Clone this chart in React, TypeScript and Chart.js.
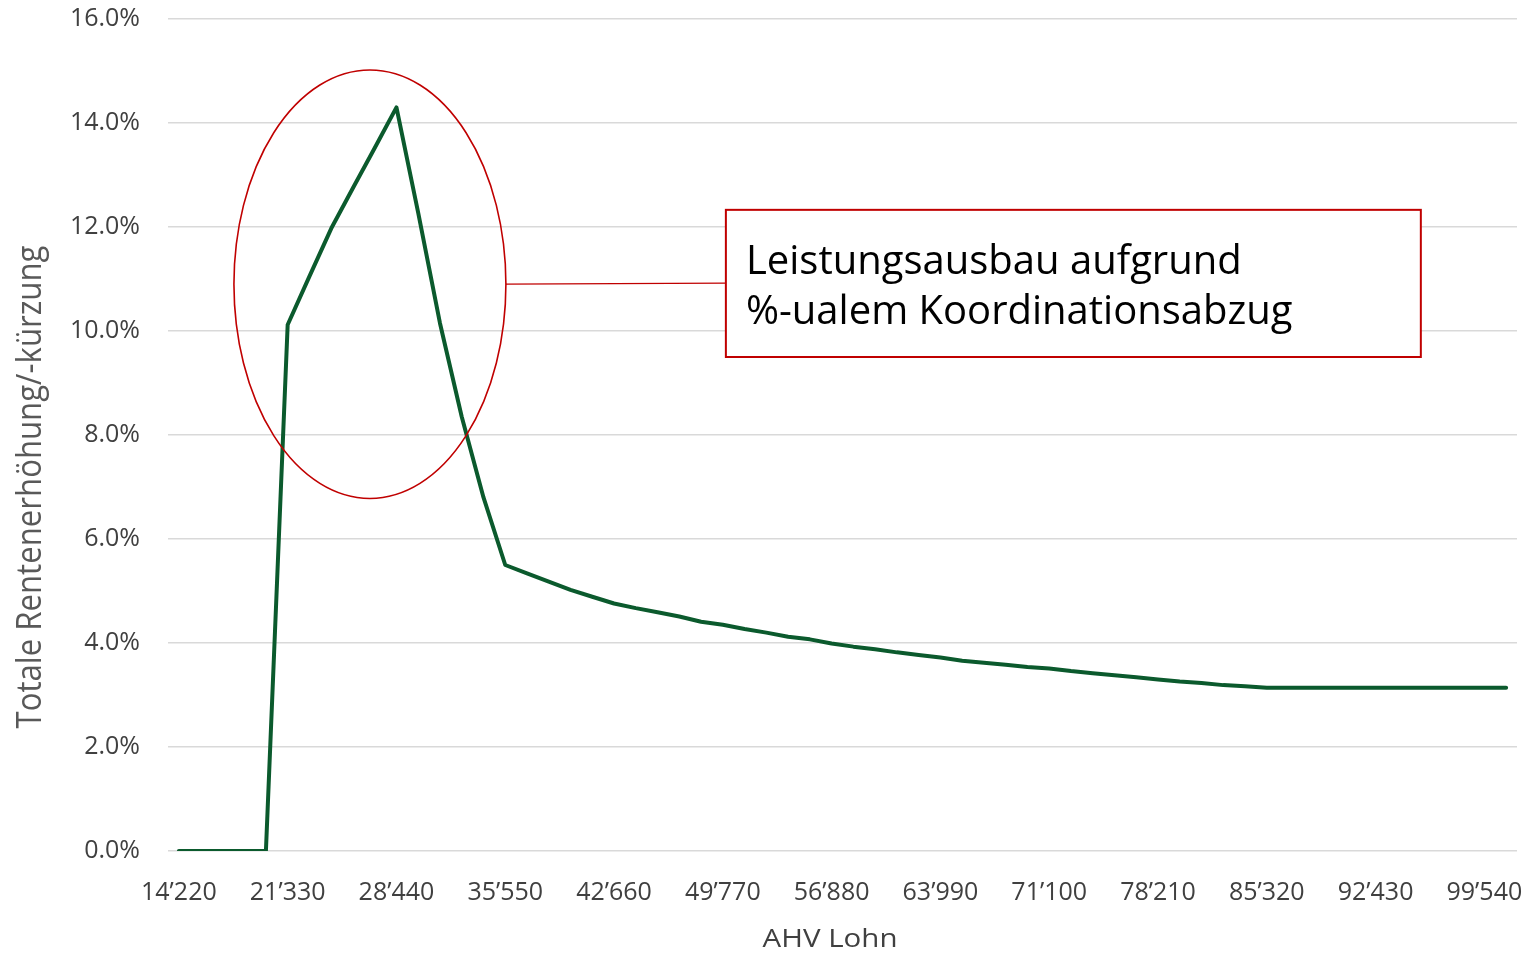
import React, { useEffect, useRef } from "react";
import { Chart, registerables } from "chart.js";

Chart.register(...registerables);

// AHV Lohn categories (CHF)
const salaries: number[] = [
  14220, 15642, 17064, 18486, 19908, 21330, 22752, 24174, 25596, 27018,
  28440, 29862, 31284, 32706, 34128, 35550, 36972, 38394, 39816, 41238,
  42660, 44082, 45504, 46926, 48348, 49770, 51192, 52614, 54036, 55458,
  56880, 58302, 59724, 61146, 62568, 63990, 65412, 66834, 68256, 69678,
  71100, 72522, 73944, 75366, 76788, 78210, 79632, 81054, 82476, 83898,
  85320, 86742, 88164, 89586, 91008, 92430, 93852, 95274, 96696, 98118,
  99540, 100962,
];

// Totale Rentenerhöhung/-kürzung in %
const changePct: number[] = [
  0, 0, 0, 0, 0, 10.12, 11.05, 11.97, 12.75, 13.52,
  14.3, 12.27, 10.15, 8.35, 6.8, 5.5, 5.34, 5.18, 5.02, 4.89,
  4.76, 4.67, 4.59, 4.51, 4.41, 4.35, 4.27, 4.2, 4.12, 4.07,
  3.99, 3.93, 3.88, 3.82, 3.77, 3.72, 3.66, 3.62, 3.58, 3.54,
  3.51, 3.46, 3.42, 3.38, 3.34, 3.3, 3.26, 3.23, 3.19, 3.17,
  3.14, 3.14, 3.14, 3.14, 3.14, 3.14, 3.14, 3.14, 3.14, 3.14,
  3.14, 3.14,
];

const yTicks: number[] = [0, 2, 4, 6, 8, 10, 12, 14, 16];
const labelEvery = 5;

const xTitle = "AHV Lohn";
const yTitle = "Totale Rentenerhöhung/-kürzung";
const noteLines: string[] = ["Leistungsausbau aufgrund", "%-ualem Koordinationsabzug"];

// annotation anchors in data units (category index / percent)
const ellipseCenter = { x: 8.78, y: 10.9 };
const ellipseRadius = { x: 6.25, y: 4.12 };
const noteBox = { x0: 25.14, x1: 57.08, y0: 12.33, y1: 9.5 };

const fmtSalary = (v: number) =>
  `${Math.floor(v / 1000)}’${String(v % 1000).padStart(3, "0")}`;

const FONT = "'Open Sans', 'Noto Sans', sans-serif";
const RED = "#c00000";

export default function App() {
  const ref = useRef<HTMLCanvasElement | null>(null);

  useEffect(() => {
    document.body.style.margin = "0";
    const canvas = ref.current;
    if (!canvas) return;

    const annotPlugin = {
      id: "annot",
      afterDatasetsDraw(chart: any) {
        const { ctx, scales } = chart;
        const x = scales.x;
        const y = scales.y;
        ctx.save();
        // ellipse
        const cx = x.getPixelForValue(ellipseCenter.x);
        const cy = y.getPixelForValue(ellipseCenter.y);
        const rx = x.getPixelForValue(ellipseCenter.x + ellipseRadius.x) - cx;
        const ry = cy - y.getPixelForValue(ellipseCenter.y + ellipseRadius.y);
        ctx.strokeStyle = RED;
        ctx.lineWidth = 1.6;
        ctx.beginPath();
        ctx.ellipse(cx, cy, rx, ry, 0, 0, Math.PI * 2);
        ctx.stroke();
        // box
        const bx0 = x.getPixelForValue(noteBox.x0);
        const bx1 = x.getPixelForValue(noteBox.x1);
        const by0 = y.getPixelForValue(noteBox.y0);
        const by1 = y.getPixelForValue(noteBox.y1);
        // connector
        ctx.lineWidth = 1.2;
        ctx.beginPath();
        ctx.moveTo(cx + rx, cy);
        ctx.lineTo(bx0, cy - 1);
        ctx.stroke();
        ctx.fillStyle = "#ffffff";
        ctx.fillRect(bx0, by0, bx1 - bx0, by1 - by0);
        ctx.lineWidth = 2;
        ctx.strokeRect(bx0, by0, bx1 - bx0, by1 - by0);
        ctx.fillStyle = "#000000";
        ctx.font = `40px ${FONT}`;
        ctx.textAlign = "left";
        ctx.textBaseline = "alphabetic";
        noteLines.forEach((t, i) => {
          ctx.fillText(t, bx0 + 20, by0 + 64 + i * 50);
        });
        ctx.restore();
      },
      afterDraw(chart: any) {
        const { ctx } = chart;
        // x title
        ctx.save();
        ctx.fillStyle = "#404040";
        ctx.font = `25px ${FONT}`;
        ctx.textAlign = "center";
        ctx.textBaseline = "alphabetic";
        const wx = ctx.measureText(xTitle).width;
        ctx.translate(830, 947);
        ctx.scale(135 / wx, 1);
        ctx.fillText(xTitle, 0, 0);
        ctx.restore();
        // y title
        ctx.save();
        ctx.fillStyle = "#595959";
        ctx.font = `500 35px ${FONT}`;
        ctx.textAlign = "center";
        ctx.textBaseline = "alphabetic";
        const wy = ctx.measureText(yTitle).width;
        ctx.translate(41, 487);
        ctx.rotate(-Math.PI / 2);
        ctx.scale(483 / wy, 1);
        ctx.fillText(yTitle, 0, 0);
        ctx.restore();
      },
    };

    const chart = new Chart(canvas, {
      type: "line",
      data: {
        labels: salaries.map(String),
        datasets: [
          {
            data: changePct,
            borderColor: "#0b5a2d",
            borderWidth: 4,
            pointRadius: 0,
            tension: 0,
            borderCapStyle: "round",
            borderJoinStyle: "round",
          },
        ],
      },
      options: {
        animation: false,
        responsive: false,
        layout: { padding: { left: 0, right: 16, top: 19, bottom: 0 } },
        plugins: { legend: { display: false }, tooltip: { enabled: false } },
        scales: {
          x: {
            type: "category",
            offset: true,
            grid: { display: false },
            border: { display: false },
            ticks: {
              autoSkip: false,
              maxRotation: 0,
              padding: 19,
              color: "#404040",
              font: { family: FONT, size: 25 },
              callback: (_v: any, i: number) =>
                i % labelEvery === 0 ? fmtSalary(salaries[i]) : "",
            },
            afterFit: (s: any) => {
              s.height = 103;
              s.paddingLeft = 0;
              s.paddingRight = 0;
            },
          },
          y: {
            min: yTicks[0],
            max: yTicks[yTicks.length - 1],
            afterBuildTicks: (s: any) => {
              s.ticks = yTicks.map((v) => ({ value: v }));
            },
            grid: { color: "#d9d9d9", lineWidth: 1.5, drawTicks: false },
            border: { display: false },
            ticks: {
              padding: 28,
              color: "#404040",
              font: { family: FONT, size: 25 },
              callback: (v: any) => `${Number(v).toFixed(1)}%`,
            },
            afterFit: (s: any) => {
              s.width = 168;
              s.paddingTop = 0;
              s.paddingBottom = 0;
            },
          },
        },
      },
      plugins: [annotPlugin],
    });
    return () => chart.destroy();
  }, []);

  return (
    <div style={{ width: 1533, height: 954, overflow: "hidden" }}>
      <canvas ref={ref} width={1533} height={954} style={{ display: "block" }} />
    </div>
  );
}
